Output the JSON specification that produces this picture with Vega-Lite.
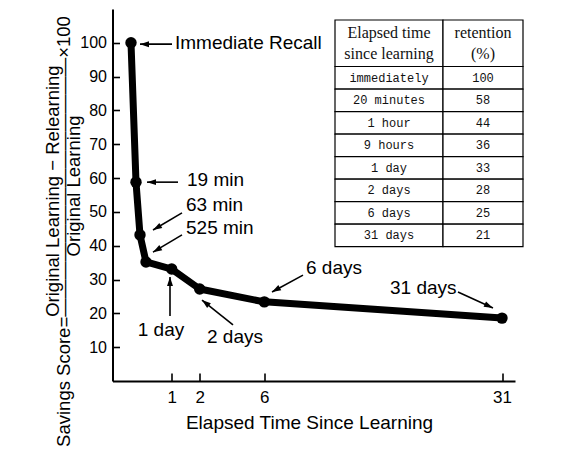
{
  "$schema": "https://vega.github.io/schema/vega-lite/v6.json",
  "width": 402.5,
  "height": 372,
  "autosize": {"type": "none"},
  "padding": {"left": 112.5, "top": 9, "right": 56, "bottom": 74},
  "background": "white",
  "config": {"view": {"stroke": null}, "font": "Liberation Sans"},
  "datasets": {
    "curve": [
      {"time": "immediately", "day": 0, "score": 100},
      {"time": "19 min", "day": 0.0132, "score": 58.8},
      {"time": "63 min", "day": 0.04375, "score": 43.2},
      {"time": "525 min", "day": 0.3646, "score": 35.2},
      {"time": "1 day", "day": 1, "score": 33.1},
      {"time": "2 days", "day": 2, "score": 27.2},
      {"time": "6 days", "day": 6, "score": 23.4},
      {"time": "31 days", "day": 31, "score": 18.6}
    ],
    "notes": [
      {"label": "Immediate Recall", "tx": 1.118, "ty": 99.9, "x1": 1.011, "y1": 99.6, "x2": 0.04375, "y2": 99.6},
      {"label": "19 min", "tx": 1.546, "ty": 59.4, "x1": 1.225, "y1": 58.8, "x2": 0.3893, "y2": 58.8},
      {"label": "63 min", "tx": 1.511, "ty": 52.0, "x1": 1.368, "y1": 49.7, "x2": 0.5377, "y2": 44.65},
      {"label": "525 min", "tx": 1.511, "ty": 45.2, "x1": 1.368, "y1": 43.2, "x2": 0.5377, "y2": 38.1},
      {"label": "1 day", "tx": 0.7354, "ty": 15.1, "x1": 0.958, "y1": 19.2, "x2": 0.958, "y2": 30.75},
      {"label": "2 days", "tx": 2.452, "ty": 13.0, "x1": 4.062, "y1": 16.6, "x2": 2.142, "y2": 23.95},
      {"label": "6 days", "tx": 10.386, "ty": 33.4, "x1": 10.07, "y1": 31.3, "x2": 6.81, "y2": 26.3},
      {"label": "31 days", "tx": 19.22, "ty": 27.5, "x1": 26.37, "y1": 26.3, "x2": 30.05, "y2": 21.6}
    ],
    "table": [
      {"time": "immediately", "retention": "100"},
      {"time": "20 minutes", "retention": "58"},
      {"time": "1 hour", "retention": "44"},
      {"time": "9 hours", "retention": "36"},
      {"time": "1 day", "retention": "33"},
      {"time": "2 days", "retention": "28"},
      {"time": "6 days", "retention": "25"},
      {"time": "31 days", "retention": "21"}
    ],
    "header": [
      {"col": "time", "text": "Elapsed time\nsince learning"},
      {"col": "retention", "text": "retention\n(%)"}
    ]
  },
  "layer": [
    {
      "layer": [
        {
          "data": {"name": "curve"},
          "mark": {"type": "line", "color": "black", "strokeWidth": 7, "strokeJoin": "round", "strokeCap": "round"},
          "encoding": {
            "x": {
              "field": "day", "type": "quantitative",
              "scale": {"type": "linear", "domain": [-0.1, 0, 0.0132, 0.04375, 0.3646, 1, 2, 6, 31, 32.37], "range": [0, 18.5, 23.5, 27.5, 33.5, 59.2, 87.2, 151.8, 389.5, 402.5], "nice": false, "zero": false},
              "axis": {
                "values": [1, 2, 6, 31], "grid": false, "labelFlush": false, "labelOverlap": false,
                "domainColor": "black", "domainWidth": 2, "tickColor": "black", "tickWidth": 1.6, "tickSize": -8,
                "labelPadding": 16, "labelFont": "Liberation Sans", "labelFontSize": 17, "labelColor": "black",
                "title": "Elapsed Time Since Learning", "titleFont": "Liberation Sans", "titleFontSize": 19, "titleFontWeight": "normal", "titleColor": "black",
                "titleX": 196.5, "titleY": 47.5, "titleAlign": "center", "titleBaseline": "alphabetic"
              }
            },
            "y": {
              "field": "score", "type": "quantitative",
              "scale": {"domain": [0, 110], "nice": false, "zero": true},
              "axis": {
                "values": [10, 20, 30, 40, 50, 60, 70, 80, 90, 100], "grid": false,
                "domainColor": "black", "domainWidth": 2, "tickColor": "black", "tickWidth": 1.6, "tickSize": -7,
                "labelPadding": 13, "labelFont": "Liberation Sans", "labelFontSize": 16, "labelColor": "black",
                "title": [
                  "\u2800\u00a0\u00a0\u00a0\u00a0\u00a0\u00a0\u00a0\u00a0\u00a0\u00a0\u00a0\u00a0\u00a0Original Learning \u2212 Relearning",
                  "Savings Score=\u2014\u2014\u2014\u2014\u2014\u2014\u2014\u2014\u2014\u2014\u2014\u2014\u2014\u2014\u00d7100",
                  "\u2800\u00a0\u00a0\u00a0\u00a0\u00a0\u00a0\u00a0\u00a0\u00a0\u00a0\u00a0\u00a0\u00a0\u00a0\u00a0Original Learning"
                ],
                "titleFont": "Liberation Sans", "titleFontSize": 18.5, "titleFontWeight": "normal", "titleColor": "black",
                "titleAngle": -90, "titleAlign": "center", "titleBaseline": "alphabetic", "titleLineHeight": 10.5,
                "titleX": -54, "titleY": 222
              }
            }
          }
        },
        {
          "data": {"name": "curve"},
          "mark": {"type": "circle", "color": "black", "size": 130, "opacity": 1},
          "encoding": {
            "x": {"field": "day", "type": "quantitative"},
            "y": {"field": "score", "type": "quantitative"}
          }
        },
        {
          "data": {"name": "notes"},
          "mark": {"type": "rule", "color": "black", "strokeWidth": 1.6},
          "encoding": {
            "x": {"field": "x1", "type": "quantitative"},
            "y": {"field": "y1", "type": "quantitative"},
            "x2": {"field": "x2"},
            "y2": {"field": "y2"}
          }
        },
        {
          "data": {"name": "notes"},
          "transform": [{"filter": {"field": "label", "oneOf": ["Immediate Recall", "19 min"]}}],
          "mark": {"type": "point", "shape": "M0,0L0.33,1L-0.33,1Z", "size": 324, "filled": true, "color": "black", "opacity": 1, "angle": 270},
          "encoding": {"x": {"field": "x2", "type": "quantitative"}, "y": {"field": "y2", "type": "quantitative"}}
        },
        {
          "data": {"name": "notes"},
          "transform": [{"filter": {"field": "label", "oneOf": ["63 min", "525 min", "6 days"]}}],
          "mark": {"type": "point", "shape": "M0,0L0.33,1L-0.33,1Z", "size": 324, "filled": true, "color": "black", "opacity": 1, "angle": 240},
          "encoding": {"x": {"field": "x2", "type": "quantitative"}, "y": {"field": "y2", "type": "quantitative"}}
        },
        {
          "data": {"name": "notes"},
          "transform": [{"filter": {"field": "label", "oneOf": ["1 day"]}}],
          "mark": {"type": "point", "shape": "M0,0L0.33,1L-0.33,1Z", "size": 324, "filled": true, "color": "black", "opacity": 1, "angle": 0},
          "encoding": {"x": {"field": "x2", "type": "quantitative"}, "y": {"field": "y2", "type": "quantitative"}}
        },
        {
          "data": {"name": "notes"},
          "transform": [{"filter": {"field": "label", "oneOf": ["2 days"]}}],
          "mark": {"type": "point", "shape": "M0,0L0.33,1L-0.33,1Z", "size": 324, "filled": true, "color": "black", "opacity": 1, "angle": 309},
          "encoding": {"x": {"field": "x2", "type": "quantitative"}, "y": {"field": "y2", "type": "quantitative"}}
        },
        {
          "data": {"name": "notes"},
          "transform": [{"filter": {"field": "label", "oneOf": ["31 days"]}}],
          "mark": {"type": "point", "shape": "M0,0L0.33,1L-0.33,1Z", "size": 324, "filled": true, "color": "black", "opacity": 1, "angle": 115},
          "encoding": {"x": {"field": "x2", "type": "quantitative"}, "y": {"field": "y2", "type": "quantitative"}}
        },
        {
          "data": {"name": "notes"},
          "transform": [{"filter": "datum.label !== '1 day'"}],
          "mark": {"type": "text", "align": "left", "baseline": "middle", "font": "Liberation Sans", "fontSize": 19, "color": "black"},
          "encoding": {
            "x": {"field": "tx", "type": "quantitative"},
            "y": {"field": "ty", "type": "quantitative"},
            "text": {"field": "label", "type": "nominal"}
          }
        },
        {
          "data": {"name": "notes"},
          "transform": [{"filter": "datum.label === '1 day'"}],
          "mark": {"type": "text", "align": "center", "baseline": "middle", "font": "Liberation Sans", "fontSize": 19, "color": "black"},
          "encoding": {
            "x": {"field": "tx", "type": "quantitative"},
            "y": {"field": "ty", "type": "quantitative"},
            "text": {"field": "label", "type": "nominal"}
          }
        }
      ]
    },
    {
      "layer": [
        {
          "data": {"name": "header"},
          "transform": [{"filter": "datum.col === 'time'"}],
          "encoding": {
            "x": {"datum": "time", "type": "nominal", "scale": {"type": "band", "domain": ["time"], "range": [222.5, 330.5], "paddingInner": 0, "paddingOuter": 0}, "axis": null},
            "y": {"datum": "header", "type": "nominal", "scale": {"type": "band", "domain": ["header"], "range": [11, 57.5], "paddingInner": 0, "paddingOuter": 0}, "axis": null}
          },
          "layer": [
            {"mark": {"type": "rect", "fill": "white", "stroke": "black", "strokeWidth": 1.2}},
            {"mark": {"type": "text", "font": "Liberation Serif", "fontSize": 16, "lineBreak": "\n", "lineHeight": 21, "dy": -10, "color": "#111"}, "encoding": {"text": {"field": "text", "type": "nominal"}}}
          ]
        },
        {
          "data": {"name": "table"},
          "encoding": {
            "x": {"datum": "time", "type": "nominal", "scale": {"type": "band", "domain": ["time"], "range": [222.5, 330.5], "paddingInner": 0, "paddingOuter": 0}, "axis": null},
            "y": {"field": "time", "type": "nominal", "sort": null, "scale": {"type": "band", "domain": ["immediately", "20 minutes", "1 hour", "9 hours", "1 day", "2 days", "6 days", "31 days"], "range": [57.5, 237.7], "paddingInner": 0, "paddingOuter": 0}, "axis": null}
          },
          "layer": [
            {"mark": {"type": "rect", "fill": "white", "stroke": "black", "strokeWidth": 1.2}},
            {"mark": {"type": "text", "font": "Liberation Mono", "fontSize": 12, "color": "#111"}, "encoding": {"text": {"field": "time", "type": "nominal"}}}
          ]
        }
      ],
      "resolve": {"scale": {"y": "independent"}}
    },
    {
      "layer": [
        {
          "data": {"name": "header"},
          "transform": [{"filter": "datum.col === 'retention'"}],
          "encoding": {
            "x": {"datum": "retention", "type": "nominal", "scale": {"type": "band", "domain": ["retention"], "range": [330.5, 410.5], "paddingInner": 0, "paddingOuter": 0}, "axis": null},
            "y": {"datum": "header", "type": "nominal", "scale": {"type": "band", "domain": ["header"], "range": [11, 57.5], "paddingInner": 0, "paddingOuter": 0}, "axis": null}
          },
          "layer": [
            {"mark": {"type": "rect", "fill": "white", "stroke": "black", "strokeWidth": 1.2}},
            {"mark": {"type": "text", "font": "Liberation Serif", "fontSize": 16, "lineBreak": "\n", "lineHeight": 21, "dy": -10, "color": "#111"}, "encoding": {"text": {"field": "text", "type": "nominal"}}}
          ]
        },
        {
          "data": {"name": "table"},
          "encoding": {
            "x": {"datum": "retention", "type": "nominal", "scale": {"type": "band", "domain": ["retention"], "range": [330.5, 410.5], "paddingInner": 0, "paddingOuter": 0}, "axis": null},
            "y": {"field": "time", "type": "nominal", "sort": null, "scale": {"type": "band", "domain": ["immediately", "20 minutes", "1 hour", "9 hours", "1 day", "2 days", "6 days", "31 days"], "range": [57.5, 237.7], "paddingInner": 0, "paddingOuter": 0}, "axis": null}
          },
          "layer": [
            {"mark": {"type": "rect", "fill": "white", "stroke": "black", "strokeWidth": 1.2}},
            {"mark": {"type": "text", "font": "Liberation Mono", "fontSize": 12, "color": "#111"}, "encoding": {"text": {"field": "retention", "type": "nominal"}}}
          ]
        }
      ],
      "resolve": {"scale": {"y": "independent"}}
    }
  ],
  "resolve": {"scale": {"x": "independent", "y": "independent"}}
}
